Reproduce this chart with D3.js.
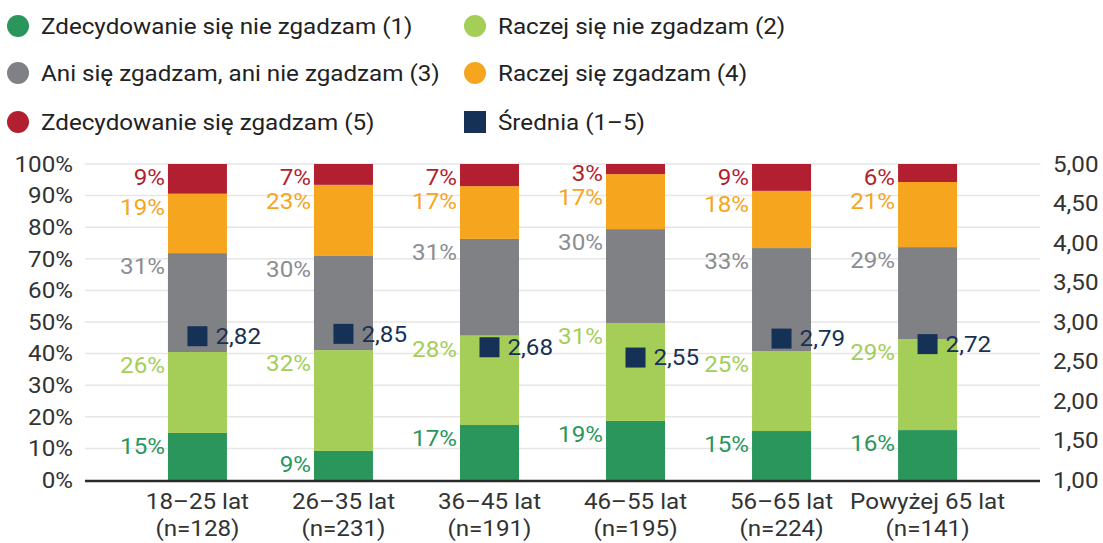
<!DOCTYPE html>
<html><head><meta charset="utf-8">
<script src="https://cdn.jsdelivr.net/npm/d3@7"></script>
<style>
html,body{margin:0;padding:0;background:#fff;}
svg{display:block;font-family:Roboto,"Noto Sans",sans-serif;}
</style></head>
<body><svg id="chart" width="1103" height="543"></svg>
<script>
const categories = ["18–25 lat", "26–35 lat", "36–45 lat", "46–55 lat", "56–65 lat", "Powyżej 65 lat"];
const sampleSizes = ["(n=128)", "(n=231)", "(n=191)", "(n=195)", "(n=224)", "(n=141)"];
const seriesNames = ["Zdecydowanie się nie zgadzam (1)", "Raczej się nie zgadzam (2)", "Ani się zgadzam, ani nie zgadzam (3)", "Raczej się zgadzam (4)", "Zdecydowanie się zgadzam (5)"];
const s1 = [14.9, 9.2, 17.4, 18.7, 15.5, 15.8];
const s2 = [25.6, 31.9, 28.3, 31.0, 25.3, 28.8];
const s3 = [31.3, 29.8, 30.6, 29.7, 32.6, 29.1];
const s4 = [18.8, 22.5, 16.7, 17.4, 18.1, 20.6];
const s5 = [9.4, 6.6, 7.0, 3.2, 8.5, 5.7];
const labels1 = ["15%", "9%", "17%", "19%", "15%", "16%"];
const labels2 = ["26%", "32%", "28%", "31%", "25%", "29%"];
const labels3 = ["31%", "30%", "31%", "30%", "33%", "29%"];
const labels4 = ["19%", "23%", "17%", "17%", "18%", "21%"];
const labels5 = ["9%", "7%", "7%", "3%", "9%", "6%"];
const means = [2.82, 2.85, 2.68, 2.55, 2.79, 2.72];
const meanLabels = ["2,82", "2,85", "2,68", "2,55", "2,79", "2,72"];
const leftTicks = [0, 10, 20, 30, 40, 50, 60, 70, 80, 90, 100];
const rightTicks = [1, 1.5, 2, 2.5, 3, 3.5, 4, 4.5, 5];
const meanName = "Średnia (1–5)";

const colors = ["#2a965c", "#a4ce57", "#808185", "#f6a51f", "#b11f30"];
const labelColors = ["#2a965c", "#a4ce57", "#8c8d90", "#f6a51f", "#b11f30"];
const navy = "#163156";
const textCol = "#333333";
const FS = 22, SX = 1.1;

const svg = d3.select("#chart");
const plotL = 85, plotR = 1040, plotT = 164, plotB = 480;

function addText(parent, x, y, txt, anchor, color) {
  const g = parent.append("g").attr("transform", `translate(${x},${y}) scale(${SX},1)`);
  g.append("text").attr("x", 0).attr("y", 0).attr("dy", "0.35em")
    .attr("text-anchor", anchor).attr("font-size", FS).attr("fill", color).text(txt);
  return g;
}

const x = d3.scaleBand().domain(categories).range([plotL, plotR]).paddingInner(0.596).paddingOuter(0.568);
const y = d3.scaleLinear().domain([0, 100]).range([plotB, plotT]);
const y2 = d3.scaleLinear().domain([1, 5]).range([plotB, plotT]);

// gridlines
svg.append("g").selectAll("line").data(leftTicks.slice(1)).join("line")
  .attr("x1", plotL).attr("x2", plotR)
  .attr("y1", d => y(d)).attr("y2", d => y(d))
  .attr("stroke", "#e6e6e6").attr("stroke-width", 1.5);

// left axis ticks (text via scale)
const gy = svg.append("g");
y.ticks; // scale used for positions
leftTicks.forEach(t => addText(gy, 73, y(t), t + "%", "end", textCol));

// right axis
const gy2 = svg.append("g");
rightTicks.forEach(t => addText(gy2, 1053, y2(t), t.toFixed(2).replace(".", ","), "start", textCol));

// stack
const rows = categories.map((c, i) => ({cat: c, k0: s1[i], k1: s2[i], k2: s3[i], k3: s4[i], k4: s5[i]}));
const keys = ["k0", "k1", "k2", "k3", "k4"];
const labelSets = [labels1, labels2, labels3, labels4, labels5];
const stacked = d3.stack().keys(keys)(rows);

const gBars = svg.append("g");
stacked.forEach((layer, li) => {
  gBars.append("g").selectAll("rect").data(layer).join("rect")
    .attr("x", d => x(d.data.cat))
    .attr("width", x.bandwidth())
    .attr("y", d => y(d[1]))
    .attr("height", d => y(d[0]) - y(d[1]))
    .attr("fill", colors[li]);
});

// percentage labels (near top of segment, avoiding overlap, top-down)
const gLab = svg.append("g");
categories.forEach((c, ci) => {
  let prev = -Infinity;
  for (let li = 4; li >= 0; li--) {
    const seg = stacked[li][ci];
    const top = y(seg[1]), bot = y(seg[0]);
    let cy = Math.min(top + 13.5, bot - 1);
    if (cy < prev + 24) cy = prev + 24;
    prev = cy;
    addText(gLab, x(c) - 3, cy, labelSets[li][ci], "end", labelColors[li]);
  }
});

// axis baseline
svg.append("line").attr("x1", plotL).attr("x2", plotR).attr("y1", plotB + 1).attr("y2", plotB + 1)
  .attr("stroke", "#2b2b2b").attr("stroke-width", 2.5);

// means
const gm = svg.append("g");
gm.selectAll("rect").data(means).join("rect")
  .attr("x", (d, i) => x(categories[i]) + x.bandwidth() / 2 - 10)
  .attr("y", d => y2(d) - 10)
  .attr("width", 20).attr("height", 20)
  .attr("fill", navy);
means.forEach((d, i) => addText(gm, x(categories[i]) + x.bandwidth() / 2 + 18, y2(d), meanLabels[i], "start", navy));

// category labels
const gx = svg.append("g");
categories.forEach((c, i) => {
  const cx = x(c) + x.bandwidth() / 2;
  addText(gx, cx, 501, c, "middle", textCol);
  addText(gx, cx, 528, sampleSizes[i], "middle", textCol);
});

// legend
const legendItems = [
  {name: seriesNames[0], color: colors[0], col: 0, row: 0, shape: "circle"},
  {name: seriesNames[1], color: colors[1], col: 1, row: 0, shape: "circle"},
  {name: seriesNames[2], color: colors[2], col: 0, row: 1, shape: "circle"},
  {name: seriesNames[3], color: colors[3], col: 1, row: 1, shape: "circle"},
  {name: seriesNames[4], color: colors[4], col: 0, row: 2, shape: "circle"},
  {name: meanName, color: navy, col: 1, row: 2, shape: "square"}
];
const colX = [18, 475];
const rowY = [26, 73, 122];
const gl = svg.append("g");
legendItems.forEach(it => {
  const cx = colX[it.col], cy = rowY[it.row];
  if (it.shape === "circle") {
    gl.append("circle").attr("cx", cx).attr("cy", cy).attr("r", 11).attr("fill", it.color);
  } else {
    gl.append("rect").attr("x", cx - 11).attr("y", cy - 11).attr("width", 22).attr("height", 22).attr("fill", it.color);
  }
  addText(gl, cx + 23, cy, it.name, "start", "#222");
});
</script></body></html>
